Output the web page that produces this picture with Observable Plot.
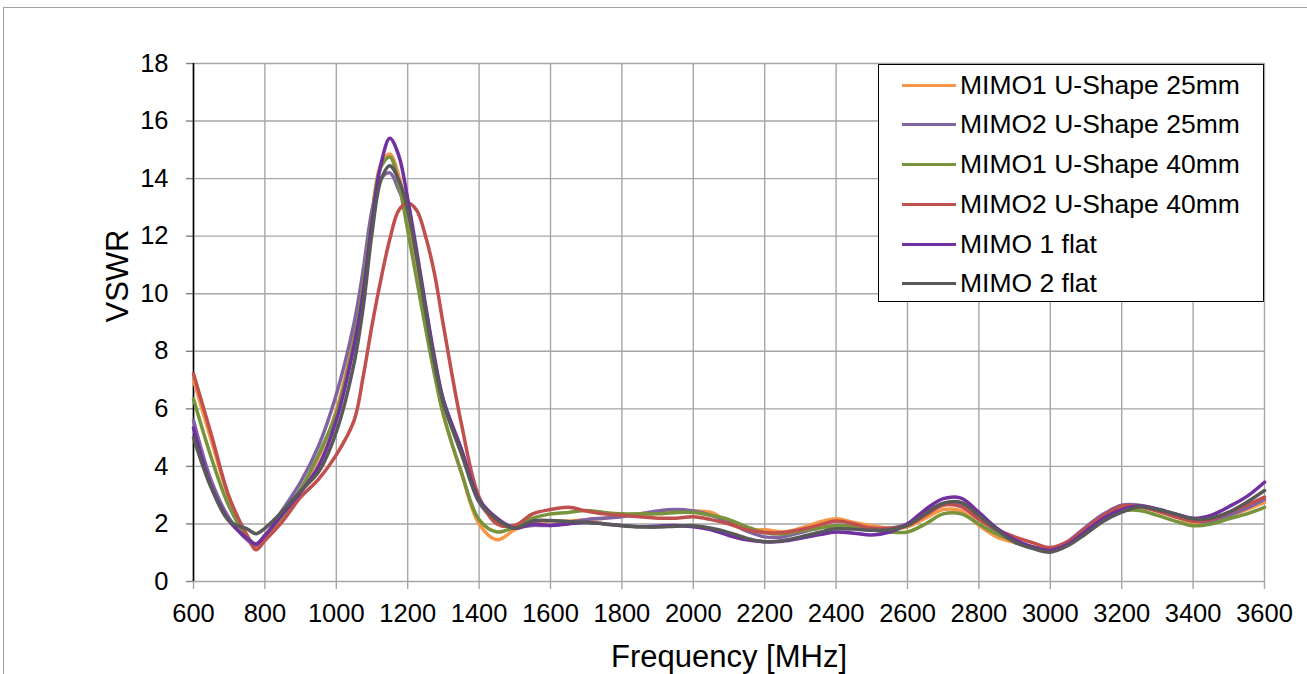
<!DOCTYPE html>
<html>
<head>
<meta charset="utf-8">
<script src="https://cdn.jsdelivr.net/npm/d3@7"></script>
<script src="https://cdn.jsdelivr.net/npm/@observablehq/plot@0.6"></script>
<style>
  html, body { margin: 0; padding: 0; background: #fff; overflow: hidden; }
  #wrap { position: relative; width: 1307px; height: 674px; font-family: "Liberation Sans", Arial, sans-serif; }
  #frame { position: absolute; left: 3px; top: 7px; width: 1400px; height: 800px; border: 1.5px solid #a0a0a0; box-sizing: border-box; }
  #chart { position: absolute; left: 0; top: 0; }
  #legend { position: absolute; left: 878px; top: 64px; width: 386px; height: 238px; border: 1.5px solid #000; background: #fff; box-sizing: border-box; }
  .item { position: absolute; left: 0; height: 30px; }
  .item .sw { position: absolute; left: 23px; width: 54px; height: 3.5px; top: 13.5px; }
  .item .lb { position: absolute; left: 81px; top: 0; font-size: 26.5px; line-height: 30px; white-space: nowrap; color: #000; }
</style>
</head>
<body>
<div id="wrap">
  <div id="frame"></div>
  <div id="chart"></div>
  <div id="legend"></div>
</div>
<script>
const freq = [600,650,700,750,775,800,850,900,950,1000,1050,1075,1100,1125,1150,1175,1200,1225,1250,1275,1300,1350,1400,1450,1500,
  1550,1600,1650,1700,1750,1800,1850,1900,1950,2000,2050,2100,2150,2200,2250,2300,2350,2400,2450,2500,2550,2600,2650,2700,2750,
  2800,2850,2900,2950,3000,3050,3100,3150,3200,3250,3300,3350,3400,3450,3500,3550,3600];

const seriesNames = ["MIMO1 U-Shape 25mm","MIMO2 U-Shape 25mm","MIMO1 U-Shape 40mm","MIMO2 U-Shape 40mm","MIMO 1 flat","MIMO 2 flat"];
const seriesColors = ["#F79646","#8064A2","#77933C","#C0504D","#7030A0","#595959"];

const mimo1U25 = [7.0,4.9,2.9,1.6,1.2,1.5,2.3,3.2,4.3,5.95,8.6,10.5,12.8,14.5,14.85,14.1,12.6,10.9,9.0,7.3,5.8,3.8,2.0,1.45,1.8,
  2.05,2.1,2.1,2.15,2.2,2.3,2.35,2.4,2.4,2.45,2.4,2.05,1.8,1.8,1.72,1.85,2.05,2.18,2.05,1.94,1.85,1.9,2.2,2.5,2.45,
  1.95,1.55,1.35,1.2,1.15,1.35,1.8,2.3,2.55,2.6,2.45,2.25,2.05,2.05,2.25,2.5,2.75];
const mimo2U25 = [5.6,3.5,2.2,1.45,1.25,1.55,2.5,3.45,4.7,6.5,9.0,10.8,12.9,14.0,14.2,13.6,12.8,11.3,9.5,7.7,6.3,4.6,2.75,2.1,1.9,
  1.95,1.95,2.05,2.15,2.2,2.25,2.35,2.45,2.5,2.45,2.3,2.05,1.75,1.55,1.55,1.7,1.85,1.95,1.9,1.85,1.85,2.0,2.4,2.7,2.7,
  2.2,1.75,1.4,1.2,1.1,1.4,1.9,2.35,2.65,2.65,2.5,2.3,2.1,2.1,2.3,2.55,2.85];
const mimo1U40 = [6.35,4.3,2.6,1.55,1.3,1.6,2.3,3.2,4.4,5.85,8.4,10.3,12.7,14.4,14.75,13.8,12.2,10.5,8.8,7.2,5.8,3.8,2.15,1.72,1.9,
  2.2,2.35,2.4,2.47,2.4,2.35,2.35,2.35,2.4,2.4,2.3,2.15,1.9,1.7,1.65,1.75,1.85,1.94,1.9,1.8,1.72,1.72,2.0,2.35,2.35,
  2.0,1.65,1.4,1.2,1.1,1.35,1.8,2.25,2.45,2.47,2.3,2.1,1.94,2.0,2.18,2.35,2.58];
const mimo2U40 = [7.22,5.1,2.93,1.6,1.1,1.42,2.1,2.93,3.55,4.4,5.6,7.1,8.9,10.5,11.9,12.9,13.15,12.9,12.0,10.7,8.9,5.5,2.93,2.0,1.95,
  2.35,2.5,2.58,2.45,2.35,2.3,2.25,2.2,2.2,2.25,2.15,2.0,1.8,1.7,1.7,1.8,1.95,2.1,2.0,1.85,1.85,1.95,2.3,2.65,2.6,
  2.15,1.8,1.55,1.35,1.18,1.4,1.85,2.3,2.62,2.6,2.45,2.25,2.1,2.15,2.4,2.65,2.93];
const mimo1Flat = [5.34,3.3,2.1,1.5,1.3,1.6,2.35,3.1,4.0,5.6,8.2,10.0,12.5,14.5,15.4,14.8,13.3,11.5,9.6,7.8,6.3,4.6,2.85,2.2,1.85,
  2.0,1.95,2.0,2.05,2.0,1.95,1.9,1.92,1.95,1.9,1.8,1.6,1.45,1.38,1.4,1.5,1.62,1.72,1.68,1.62,1.72,2.0,2.5,2.88,2.9,
  2.4,1.85,1.45,1.2,1.08,1.3,1.75,2.2,2.5,2.62,2.52,2.35,2.2,2.3,2.6,2.95,3.45];
const mimo2Flat = [5.0,3.25,2.1,1.83,1.66,1.85,2.45,3.15,3.8,5.2,7.6,9.5,12.1,13.95,14.45,13.95,12.95,11.3,9.4,7.6,6.2,4.45,2.8,2.15,1.85,
  2.1,2.12,2.08,2.06,2.0,1.94,1.9,1.89,1.92,1.94,1.85,1.7,1.5,1.38,1.42,1.55,1.7,1.83,1.82,1.78,1.8,1.95,2.35,2.72,2.75,
  2.3,1.8,1.37,1.15,1.02,1.25,1.66,2.1,2.41,2.6,2.5,2.35,2.18,2.2,2.41,2.75,3.16];

const xTicks = [600,800,1000,1200,1400,1600,1800,2000,2200,2400,2600,2800,3000,3200,3400,3600];
const yTicks = [0,2,4,6,8,10,12,14,16,18];
const xTitle = "Frequency [MHz]";
const yTitle = "VSWR";

const allValues = [mimo1U25, mimo2U25, mimo1U40, mimo2U40, mimo1Flat, mimo2Flat];
const table = [];
seriesNames.forEach((name, i) => {
  freq.forEach((f, j) => table.push({series: name, f, v: allValues[i][j]}));
});

const font = '"Liberation Sans", Arial, sans-serif';

const chart = Plot.plot({
  width: 1307,
  height: 674,
  marginLeft: 193,
  marginRight: 43,
  marginTop: 63,
  marginBottom: 93,
  style: {fontFamily: font, fontSize: "25.5px", color: "#000", background: "transparent", overflow: "visible"},
  x: {domain: [600, 3600]},
  y: {domain: [0, 18]},
  color: {domain: seriesNames, range: seriesColors},
  marks: [
    Plot.gridX(xTicks, {stroke: "#a6a6a6", strokeOpacity: 1, strokeWidth: 1.4}),
    Plot.gridY(yTicks, {stroke: "#a6a6a6", strokeOpacity: 1, strokeWidth: 1.4}),
    Plot.axisX(xTicks, {tickSize: 8, tickPadding: 14, stroke: "#a6a6a6", strokeWidth: 1.4, fontSize: 25.5, fill: "#000", label: null, tickFormat: d => String(d)}),
    Plot.axisY(yTicks, {tickSize: 7, tickPadding: 18, stroke: "#808080", strokeWidth: 1.4, fontSize: 25.5, fill: "#000", label: null, tickFormat: d => String(d)}),
    Plot.ruleX([600], {stroke: "#000", strokeWidth: 1.6}),
    Plot.line(table, {x: "f", y: "v", z: "series", stroke: "series", curve: "catmull-rom", strokeWidth: 3.5, strokeLinejoin: "round", strokeLinecap: "round"}),
    Plot.text([xTitle], {frameAnchor: "bottom", lineAnchor: "bottom", dy: 85, fontSize: 31, fill: "#000"}),
    Plot.text([yTitle], {frameAnchor: "left", lineAnchor: "bottom", rotate: -90, dx: -66, fontSize: 31, fill: "#000"})
  ]
});
document.getElementById("chart").appendChild(chart);

const legend = document.getElementById("legend");
const rowCenters = [20, 59, 99, 139, 179, 218];
seriesNames.forEach((name, i) => {
  const item = document.createElement("div");
  item.className = "item";
  item.style.top = (rowCenters[i] - 15) + "px";
  const sw = document.createElement("div");
  sw.className = "sw";
  sw.style.background = seriesColors[i];
  const lb = document.createElement("div");
  lb.className = "lb";
  lb.textContent = name;
  item.appendChild(sw);
  item.appendChild(lb);
  legend.appendChild(item);
});
</script>
</body>
</html>
